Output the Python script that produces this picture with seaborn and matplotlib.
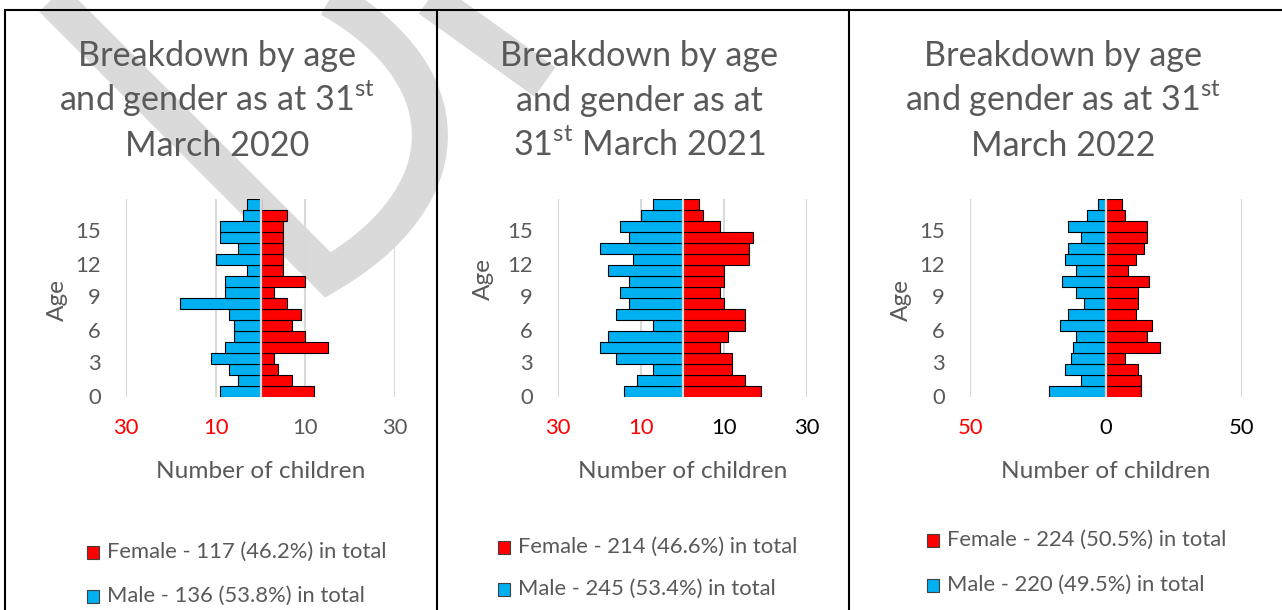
import numpy as np
import pandas as pd
import matplotlib
matplotlib.use("Agg")
import matplotlib.pyplot as plt
import seaborn as sns
import matplotlib.transforms as mtransforms
from matplotlib.lines import Line2D
from matplotlib.patches import Rectangle
from matplotlib.font_manager import FontProperties

# ---------------- data (ages 0..17, bottom to top) ----------------
ages = list(range(18))
male_2020 = [9, 5, 7, 11, 8, 6, 6, 7, 18, 8, 8, 3, 10, 5, 9, 9, 4, 3]
female_2020 = [12, 7, 4, 3, 15, 10, 7, 9, 6, 3, 10, 5, 5, 5, 5, 5, 6, 0]
male_2021 = [14, 11, 7, 16, 20, 18, 7, 16, 13, 15, 13, 18, 12, 20, 13, 15, 10, 7]
female_2021 = [19, 15, 12, 12, 9, 11, 15, 15, 10, 9, 10, 10, 16, 16, 17, 9, 5, 4]
male_2022 = [21, 9, 15, 13, 12, 11, 17, 14, 8, 11, 16, 11, 15, 14, 9, 14, 7, 3]
female_2022 = [13, 13, 12, 7, 20, 15, 17, 11, 12, 12, 16, 8, 11, 14, 15, 15, 7, 6]

titles = [
    ["Breakdown by age", r"and gender as at 31$^{\mathregular{st}}$", "March 2020"],
    ["Breakdown by age", "and gender as at", r"31$^{\mathregular{st}}$ March 2021"],
    ["Breakdown by age", r"and gender as at 31$^{\mathregular{st}}$", "March 2022"],
]
x_ticks = [[-30, -10, 10, 30], [-30, -10, 10, 30], [-50, 0, 50]]
x_ticklabels = [["30", "10", "10", "30"], ["30", "10", "10", "30"], ["50", "0", "50"]]
x_limits = [(-30, 30), (-30, 30), (-50, 50)]
y_ticks = [0, 3, 6, 9, 12, 15]
males = [male_2020, male_2021, male_2022]
females = [female_2020, female_2021, female_2022]

# ---------------- style ----------------
MALE_C = "#00B0F0"
FEMALE_C = "#FF0000"
GREY_T = "#595959"
GRID_C = "#D9D9D9"
FONT = "Lato"

sns.set_theme(style="white")
plt.rcParams["font.family"] = [FONT, "DejaVu Sans"]
plt.rcParams["mathtext.fontset"] = "custom"
plt.rcParams["mathtext.rm"] = FONT

W, H = 1282, 610
fig = plt.figure(figsize=(W / 100, H / 100), dpi=100)
fig.patch.set_facecolor("white")
renderer = fig.canvas.get_renderer()


def fx(x):
    return x / W


def fy(y):
    return 1 - y / H


def fit_size(s, target_px, base=20.0):
    fp = FontProperties(family=FONT, size=base)
    w, _, _ = renderer.get_text_width_height_descent(s, fp, ismath=False)
    return base * target_px / w


TITLE_FS = fit_size("Breakdown by age", 278)
AXLAB_FS = fit_size("Number of children", 209)
LEG_FS = fit_size("Female - 117 (46.2%) in total", 280)
TICK_FS = LEG_FS

# ---------------- watermark (decoration) ----------------
t = np.linspace(0, 1, 80)
P0, P1, P2, P3 = np.array([328, 275]), np.array([490, 180]), np.array([455, 30]), np.array([250, -35])
bez = ((1 - t) ** 3)[:, None] * P0 + (3 * (1 - t) ** 2 * t)[:, None] * P1 + \
      (3 * (1 - t) * t ** 2)[:, None] * P2 + (t ** 3)[:, None] * P3
wm = np.vstack([[[13, -40]], bez])
fig.add_artist(Line2D(fx(wm[:, 0]), fy(wm[:, 1]), transform=fig.transFigure,
                      color="#DADADA", lw=25.9, solid_joinstyle="miter",
                      solid_capstyle="butt", zorder=-1))
fig.add_artist(Line2D([fx(386), fx(545)], [fy(-32), fy(82)], transform=fig.transFigure,
                      color="#DADADA", lw=25.9, solid_capstyle="butt", zorder=-1))

# ---------------- panel frames ----------------
for xv in [5, 437, 849]:
    fig.add_artist(Line2D([fx(xv), fx(xv)], [fy(10), fy(615)], transform=fig.transFigure,
                          color="black", lw=1.5, zorder=3))
fig.add_artist(Line2D([fx(5), fx(1285)], [fy(10), fy(10)], transform=fig.transFigure,
                      color="black", lw=1.5, zorder=3))

# ---------------- layout per panel ----------------
plot_lr = [(126, 395), (558, 807), (970, 1241.7)]
title_cx = [217, 639, 1063]
title_base = [66, 111, 156]
ylab_xy = [(57, 300), (483, 279), (901, 300)]
tick_colors = [[FEMALE_C, FEMALE_C, GREY_T, GREY_T],
               [FEMALE_C, FEMALE_C, "black", "black"],
               [FEMALE_C, "black", "black"]]
leg_sq_x = [87, 498, 927]
leg_txt_x = [107, 518, 947]
leg_y = [(552, 596), (547, 589), (540, 585)]

PT, PB = 199, 397
ytick_shift = mtransforms.ScaledTranslation(0, -4 / 100, fig.dpi_scale_trans)

for i in range(3):
    left, right = plot_lr[i]
    ax = fig.add_axes([fx(left), fy(PB), (right - left) / W, (PB - PT) / H])
    ax.patch.set_alpha(0)

    df = pd.DataFrame({"age": ages,
                       "male": -np.array(males[i]),
                       "female": np.array(females[i])})
    sns.barplot(data=df, x="male", y="age", orient="h", native_scale=True,
                color=MALE_C, saturation=1, width=1, errorbar=None,
                edgecolor="black", linewidth=0.8, ax=ax, zorder=2)
    sns.barplot(data=df, x="female", y="age", orient="h", native_scale=True,
                color=FEMALE_C, saturation=1, width=1, errorbar=None,
                edgecolor="black", linewidth=0.8, ax=ax, zorder=2)

    ax.set_xlim(*x_limits[i])
    ax.set_ylim(-0.5, 17.5)
    ax.set_xticks(x_ticks[i])
    ax.set_xticklabels(x_ticklabels[i])
    ax.set_yticks(y_ticks)
    ax.set_yticklabels([str(v) for v in y_ticks])
    for lbl, c in zip(ax.get_xticklabels(), tick_colors[i]):
        lbl.set_color(c)
    ax.tick_params(axis="x", length=0, pad=15, labelsize=TICK_FS)
    ax.tick_params(axis="y", length=0, pad=18, labelsize=TICK_FS, labelcolor=GREY_T)
    for lbl in ax.get_yticklabels():
        lbl.set_transform(lbl.get_transform() + ytick_shift)

    for s in ax.spines.values():
        s.set_visible(False)
    ax.grid(axis="x", color=GRID_C, lw=1.5)
    ax.grid(axis="y", visible=False)
    ax.set_axisbelow(True)
    ax.axvline(0, color=GRID_C, lw=1.6, zorder=5)

    ax.set_xlabel("Number of children", fontsize=AXLAB_FS, color=GREY_T, va="baseline")
    ax.xaxis.set_label_coords(0.5, (PB - 478) / (PB - PT))
    ax.set_ylabel("Age", fontsize=AXLAB_FS, color=GREY_T, va="center")
    yx, yy = ylab_xy[i]
    ax.yaxis.set_label_coords((yx - left) / (right - left), (PB - yy) / (PB - PT))

    # title
    for line, yb in zip(titles[i], title_base):
        fig.text(fx(title_cx[i]), fy(yb), line, ha="center", va="baseline",
                 fontsize=TITLE_FS, color=GREY_T)

    # legend
    ft, mt = sum(females[i]), sum(males[i])
    tot = ft + mt
    entries = [(f"Female - {ft} ({ft / tot * 100:.1f}%) in total", FEMALE_C),
               (f"Male - {mt} ({mt / tot * 100:.1f}%) in total", MALE_C)]
    for (lab, col), yc in zip(entries, leg_y[i]):
        fig.add_artist(Rectangle((fx(leg_sq_x[i]), fy(yc + 6.5)), 12 / W, 13 / H,
                                 transform=fig.transFigure, facecolor=col,
                                 edgecolor="#404040", lw=0.8, zorder=3))
        fig.text(fx(leg_txt_x[i]), fy(yc), lab, ha="left", va="center",
                 fontsize=LEG_FS, color=GREY_T)

fig.savefig("out.png", dpi=100)
